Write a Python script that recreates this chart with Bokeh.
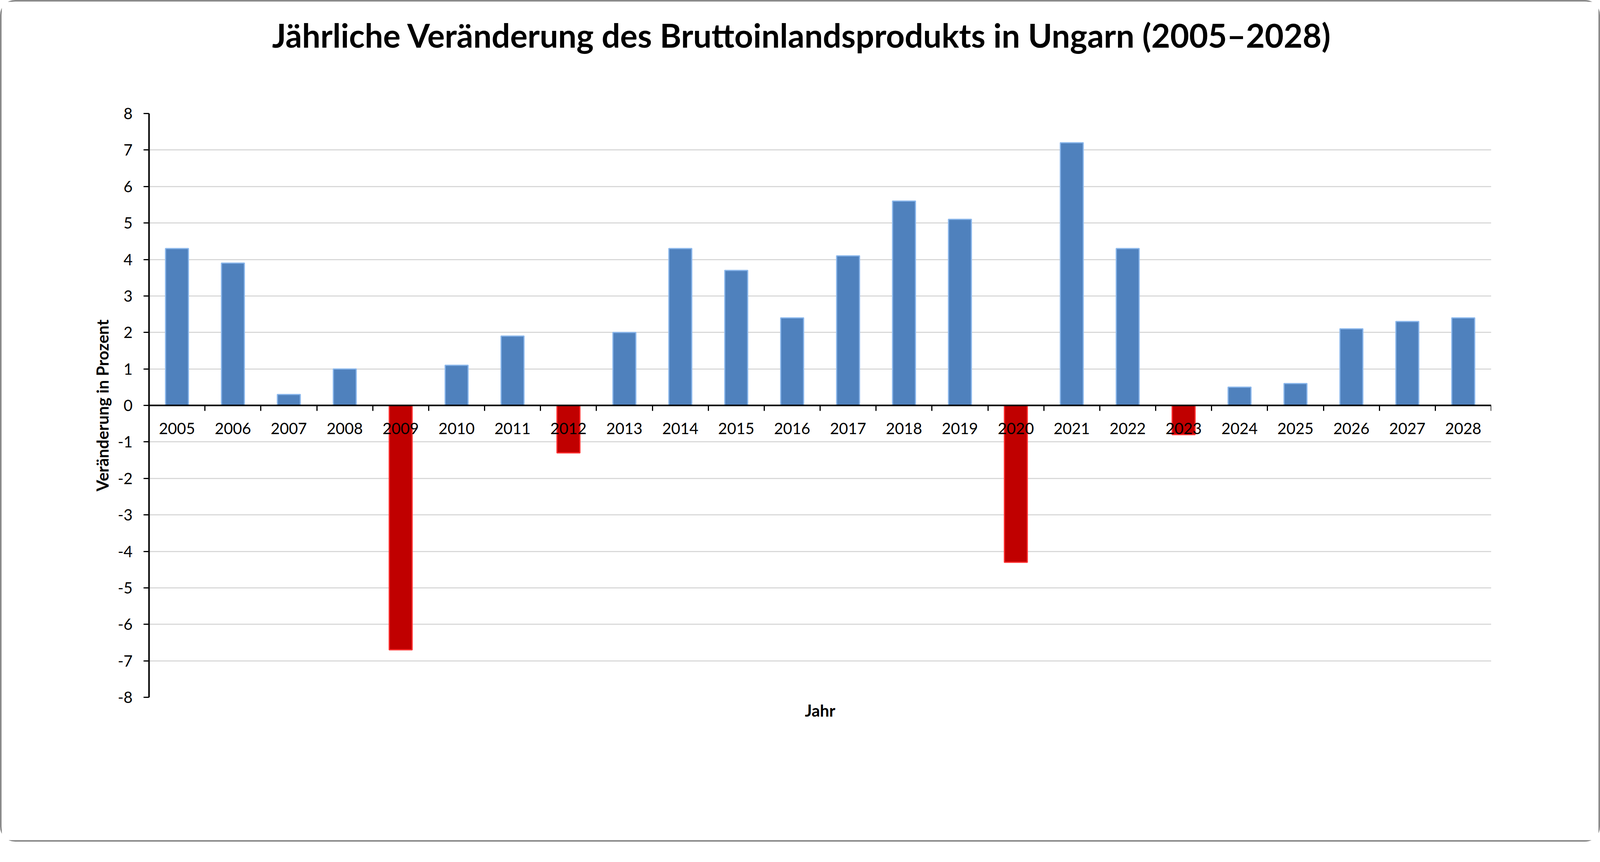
from bokeh.plotting import figure
from bokeh.models import (Range1d, LinearAxis, FixedTicker, ColumnDataSource, Title)
from bokeh.embed import file_html
from bokeh.resources import INLINE

# ---- data ----
years = ["2005", "2006", "2007", "2008", "2009", "2010", "2011", "2012",
         "2013", "2014", "2015", "2016", "2017", "2018", "2019", "2020",
         "2021", "2022", "2023", "2024", "2025", "2026", "2027", "2028"]
change = [4.3, 3.9, 0.3, 1.0, -6.7, 1.1, 1.9, -1.3, 2.0, 4.3, 3.7, 2.4,
          4.1, 5.6, 5.1, -4.3, 7.2, 4.3, -0.8, 0.5, 0.6, 2.1, 2.3, 2.4]
y_ticks = [-8, -7, -6, -5, -4, -3, -2, -1, 0, 1, 2, 3, 4, 5, 6, 7, 8]

title_text = "Jährliche Veränderung des Bruttoinlandsprodukts in Ungarn (2005–2028)"
y_label = "Veränderung in Prozent"
x_label = "Jahr"

# ---- styles ----
FONT = "Lato"
POS_FILL, POS_LINE = "#4f81bd", "#8cb8ec"
NEG_FILL, NEG_LINE = "#c00000", "#ff3030"
TICK_FS = "40px"

n = len(years)
centers = [i + 0.5 for i in range(n)]          # category slot centres
bounds = list(range(n + 1))                     # category slot boundaries
fill = [POS_FILL if v >= 0 else NEG_FILL for v in change]
line = [POS_LINE if v >= 0 else NEG_LINE for v in change]
src = ColumnDataSource(dict(x=centers, year=years, change=change, fill=fill, line=line))

p = figure(x_range=Range1d(0, n),
           y_range=Range1d(y_ticks[0], y_ticks[-1]),
           frame_width=3436, frame_height=1494,
           output_backend="svg", toolbar_location=None,
           min_border_left=377, min_border_right=275,
           min_border_top=286, min_border_bottom=366,
           x_axis_location=None, y_axis_location=None)
p.styles = {"border": "4px solid #8a8a8a", "border-radius": "39px"}
p.outline_line_color = None
p.background_fill_color = "white"
p.border_fill_color = "white"

p.vbar(x="x", top="change", bottom=0, width=0.41, source=src,
       fill_color="fill", line_color="line", line_width=3)

# grid
p.xgrid.visible = False
p.ygrid.ticker = FixedTicker(ticks=y_ticks)
p.ygrid.grid_line_color = "#d9d9d9"
p.ygrid.grid_line_width = 3

# y axis
yax = LinearAxis(ticker=FixedTicker(ticks=y_ticks), axis_label=y_label,
                 major_label_overrides={t: str(t) for t in y_ticks})
yax.axis_line_color = "black"
yax.axis_line_width = 4
yax.major_tick_line_width = 3
yax.major_tick_in = 0
yax.major_tick_out = 14
yax.minor_tick_line_color = None
yax.major_label_standoff = 28
yax.major_label_text_font = FONT
yax.major_label_text_font_size = TICK_FS
yax.major_label_text_color = "black"
yax.axis_label_text_font = FONT
yax.axis_label_text_font_size = "42px"
yax.axis_label_text_font_style = "bold"
yax.axis_label_text_color = "black"
yax.axis_label_standoff = 11
p.add_layout(yax, "left")

# x axis tick marks at category boundaries, crossing at y=0
tax = LinearAxis(ticker=FixedTicker(ticks=bounds), fixed_location=0)
tax.axis_line_color = "black"
tax.axis_line_width = 4
tax.major_tick_line_width = 3
tax.major_tick_in = 0
tax.major_tick_out = 14
tax.minor_tick_line_color = None
tax.major_label_text_font_size = "0px"
tax.major_label_text_alpha = 0
p.add_layout(tax, "below")

# x axis category labels, crossing at y=0
lax = LinearAxis(ticker=FixedTicker(ticks=centers), fixed_location=0,
                 major_label_overrides={c: y for c, y in zip(centers, years)})
lax.axis_line_color = None
lax.major_tick_line_color = None
lax.minor_tick_line_color = None
lax.major_tick_in = 0
lax.major_tick_out = 0
lax.major_label_standoff = 44
lax.major_label_text_font = FONT
lax.major_label_text_font_size = TICK_FS
lax.major_label_text_color = "black"
p.add_layout(lax, "below")

# x axis title at the bottom
bax = LinearAxis(ticker=FixedTicker(ticks=[]), axis_label=x_label)
bax.axis_line_color = None
bax.major_tick_line_color = None
bax.minor_tick_line_color = None
bax.major_tick_in = 0
bax.major_tick_out = 0
bax.major_label_standoff = 0
bax.axis_label_standoff = 8
bax.axis_label_text_font = FONT
bax.axis_label_text_font_size = "42px"
bax.axis_label_text_font_style = "bold"
bax.axis_label_text_color = "black"
p.add_layout(bax, "below")

# invisible spacer axis (closest to the frame) that lifts the title;
# it needs one tick inside the x range so that its tick length takes up room
sax = LinearAxis(ticker=FixedTicker(ticks=[centers[0]]),
                 major_label_overrides={centers[0]: ""})
sax.axis_line_color = None
sax.major_tick_line_color = None
sax.minor_tick_line_color = None
sax.major_tick_in = 0
sax.major_tick_out = 146
sax.major_label_standoff = 0
sax.major_label_text_font_size = "0px"
sax.major_label_text_alpha = 0
p.add_layout(sax, "above")

# title
t = Title(text=title_text, align="left", offset=315, standoff=10,
          text_font=FONT, text_font_size="83.5px", text_font_style="bold",
          text_color="black")
p.add_layout(t, "above")

open("out.html", "w").write(file_html(p, INLINE))
